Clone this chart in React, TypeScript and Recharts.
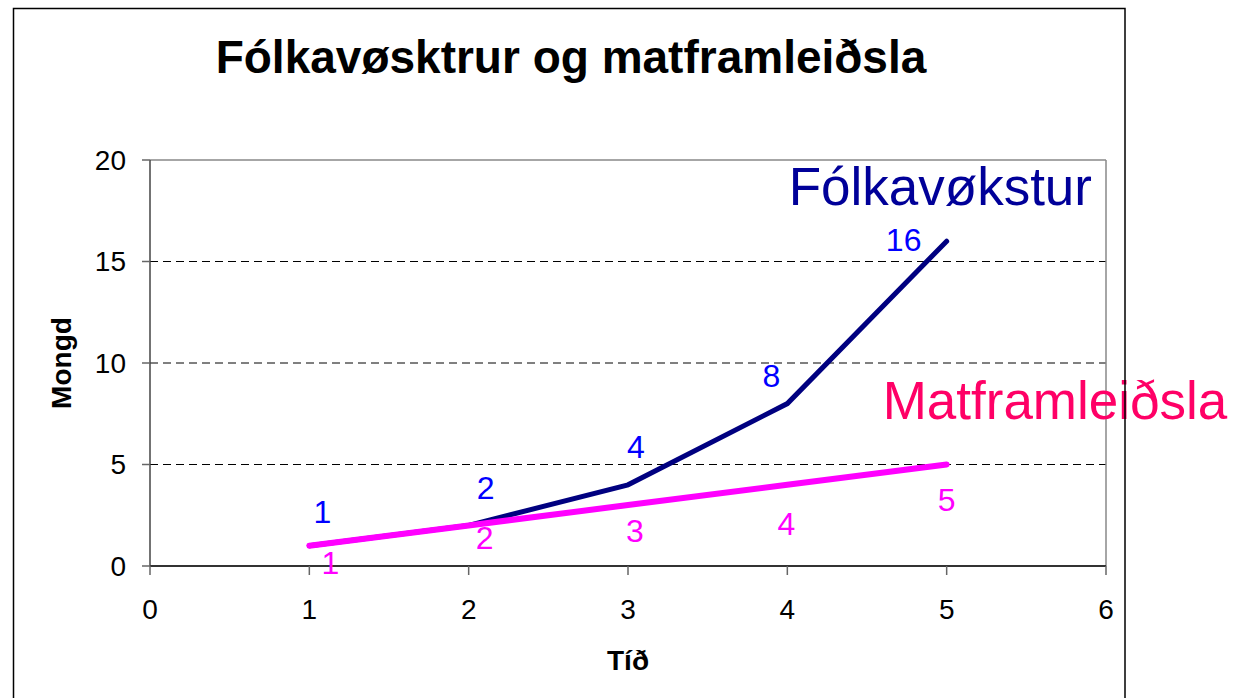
import React from 'react';
import { LineChart, Line, XAxis, YAxis, ReferenceLine, LabelList } from 'recharts';

const tid = [1, 2, 3, 4, 5];
const folkavokstur = [1, 2, 4, 8, 16];
const matframleidsla = [1, 2, 3, 4, 5];
const xTicks = [0, 1, 2, 3, 4, 5, 6];
const yTicks = [0, 5, 10, 15, 20];
const gridLines = [5, 10, 15];

const data = tid.map((t, i) => ({ tid: t, folk: folkavokstur[i], mat: matframleidsla[i] }));

const font = '"Liberation Sans", Arial, sans-serif';

// label offsets from each point (Excel put them by hand)
const folkOffsets = [[13, -34], [17, -37], [8, -38], [-16, -28], [-43, -1]];
const matOffsets = [[21, 17], [16, 13], [7, 26], [-1, 39], [0, 35]];

const makeValueLabel = (values: number[], offsets: number[][], color: string) => (props: any) => {
    const { x, y, value } = props;
    const i = values.indexOf(Number(value));
    const [dx, dy] = offsets[i] || [0, -20];
    return (
        <text x={x + dx} y={y + dy} textAnchor="middle" dominantBaseline="central"
            fill={color} fontSize={32} fontFamily={font}>
            {value}
        </text>
    );
};

const makeNameLabel = (values: number[], name: string, color: string, dx: number, dy: number) => (props: any) => {
    const { x, y, value } = props;
    if (values.indexOf(Number(value)) !== values.length - 1) return null;
    return (
        <text x={x + dx} y={y + dy} fill={color} fontSize={53} fontFamily={font}>{name}</text>
    );
};

const YTitle = (props: any) => {
    const vb = props.viewBox;
    const cx = vb.x + 61;
    const cy = vb.y + vb.height / 2;
    return (
        <text x={cx} y={cy} transform={`rotate(-90 ${cx} ${cy})`} textAnchor="middle" dominantBaseline="central"
            fontSize={28} fontWeight="bold" fontFamily={font} fill="#000">Mongd</text>
    );
};

const XTitle = (props: any) => {
    const vb = props.viewBox;
    return (
        <text x={vb.x + vb.width / 2} y={vb.y + 94} textAnchor="middle" dominantBaseline="central"
            fontSize={28} fontWeight="bold" fontFamily={font} fill="#000">Tíð</text>
    );
};

export default function App() {
    return (
        <div style={{ position: 'absolute', left: 0, top: 0, width: 1240, height: 698, background: '#fff', overflow: 'hidden' }}>
            <LineChart width={1240} height={698} data={data}
                margin={{ top: 160, right: 134, bottom: 0, left: 0 }}>
                <XAxis dataKey="tid" type="number" domain={[0, 6]} ticks={xTicks} height={132}
                    tickSize={9} tickMargin={24} stroke="#333" strokeWidth={2}
                    tick={{ fill: '#000', fontSize: 28, fontFamily: font }}
                    tickLine={{ stroke: '#666', strokeWidth: 1.5 }}
                    label={<XTitle />} />
                <YAxis type="number" domain={[0, 20]} ticks={yTicks} width={150}
                    tickSize={8} tickMargin={16} stroke="#444" strokeWidth={1.5}
                    tick={{ fill: '#000', fontSize: 28, fontFamily: font }}
                    tickLine={{ stroke: '#666', strokeWidth: 1.5 }}
                    label={<YTitle />} />
                {gridLines.map((g) => (
                    <ReferenceLine key={g} y={g} stroke="#000" strokeDasharray="8 5" strokeWidth={1} />
                ))}
                <ReferenceLine y={20} stroke="#888" strokeWidth={1.5} />
                <ReferenceLine x={6} stroke="#888" strokeWidth={1.5} />
                <Line type="linear" dataKey="folk" stroke="#000080" strokeWidth={5} dot={false}
                    strokeLinecap="round" strokeLinejoin="miter" isAnimationActive={false}>
                    <LabelList dataKey="folk" content={makeValueLabel(folkavokstur, folkOffsets, '#0000FF')} />
                    <LabelList dataKey="folk" content={makeNameLabel(folkavokstur, 'Fólkavøkstur', '#000099', -158, -36)} />
                </Line>
                <Line type="linear" dataKey="mat" stroke="#FF00FF" strokeWidth={6} dot={false}
                    strokeLinecap="round" isAnimationActive={false}>
                    <LabelList dataKey="mat" content={makeValueLabel(matframleidsla, matOffsets, '#FF00FF')} />
                    <LabelList dataKey="mat" content={makeNameLabel(matframleidsla, 'Matframleiðsla', '#FF0066', -64, -46)} />
                </Line>
            </LineChart>
            <svg width={1240} height={698} style={{ position: 'absolute', left: 0, top: 0, pointerEvents: 'none' }}>
                <text x={571} y={73} textAnchor="middle" fontSize={46} fontWeight="bold" fontFamily={font} fill="#000">
                    Fólkavøsktrur og matframleiðsla
                </text>
                <path d="M13.5 700 V8.5 H1125 V700" fill="none" stroke="#000" strokeWidth={1.5} />
            </svg>
        </div>
    );
}
